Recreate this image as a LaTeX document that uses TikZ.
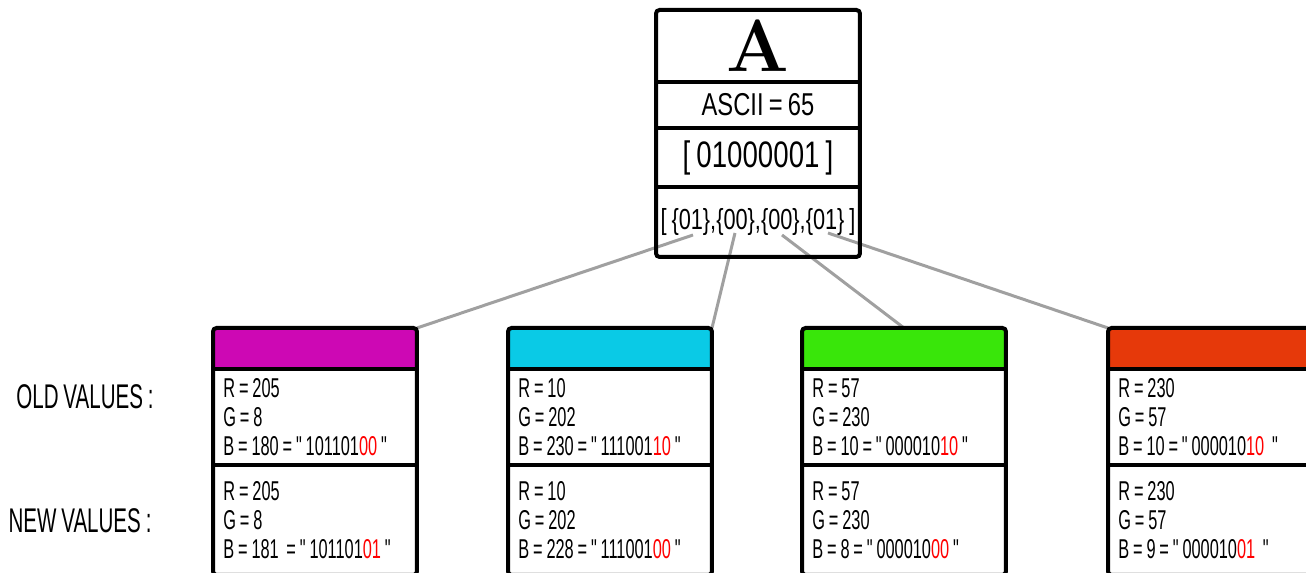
\documentclass[tikz,border=0pt]{standalone}
\usepackage{fontspec}
\usetikzlibrary{positioning}
\newfontfamily\agency{Liberation Sans}[FakeStretch=0.6,WordSpace=0.85]
\newfontfamily\agencywide{Liberation Sans}[FakeStretch=0.75,WordSpace=0.8]
\definecolor{pinkC}{RGB}{205,8,180}
\definecolor{cyanC}{RGB}{10,202,230}
\definecolor{greenC}{RGB}{57,230,10}
\definecolor{orangeC}{RGB}{230,57,10}
\definecolor{linkC}{RGB}{160,160,160}

\begin{document}
\begin{tikzpicture}[x=0.02cm,y=-0.02cm,node distance=0pt]
        \tikzstyle{cell}=[minimum width=4.08cm,inner sep=0pt,outer sep=0pt]
        \tikzstyle{frame}=[draw=black,line width=0.08cm,rounded corners=0.07cm]
        \tikzstyle{rule}=[draw=black,line width=0.08cm]
        \tikzstyle{vals}=[align=left,inner sep=0pt,font=\agency\fontsize{15.5}{16.5}\selectfont]
        \tikzstyle{link}=[draw=linkC,line width=0.06cm]
        \tikzstyle{side}=[font=\agency\fontsize{19.5}{22}\selectfont]

        \clip (0,0) rectangle (1306,573);

        % letter box
        \node[cell,minimum height=1.44cm] (chr) at (758,46)  {\fontsize{42}{42}\selectfont\bfseries A};
        \node[cell,minimum height=0.92cm] (asc) [below=of chr] {\agencywide\fontsize{18}{20}\selectfont ASCII = 65};
        \node[cell,minimum height=1.18cm] (bin) [below=of asc] {\agencywide\fontsize{21}{23}\selectfont [ 01000001 ]};
        \node[cell,minimum height=1.40cm] (bits) [below=of bin] {\agencywide\fontsize{16.5}{18}\selectfont [ \{01\},\{00\},\{00\},\{01\} ]};

        \coordinate (p1) at (693,235);
        \coordinate (p2) at (735,233);
        \coordinate (p3) at (782,235);
        \coordinate (p4) at (828,233);

        % pixel boxes
        \node[cell,minimum height=0.82cm,fill=pinkC]   (h1) at (315,348.5)  { };
        \node[cell,minimum height=1.92cm] (o1) [below=of h1] { };
        \node[cell,minimum height=2.20cm] (n1) [below=of o1] { };
        \node[cell,minimum height=0.82cm,fill=cyanC]   (h2) at (610,348.5)  { };
        \node[cell,minimum height=1.92cm] (o2) [below=of h2] { };
        \node[cell,minimum height=2.20cm] (n2) [below=of o2] { };
        \node[cell,minimum height=0.82cm,fill=greenC]  (h3) at (904,348.5)  { };
        \node[cell,minimum height=1.92cm] (o3) [below=of h3] { };
        \node[cell,minimum height=2.20cm] (n3) [below=of o3] { };
        \node[cell,minimum height=0.82cm,fill=orangeC] (h4) at (1210,348.5) { };
        \node[cell,minimum height=1.92cm] (o4) [below=of h4] { };
        \node[cell,minimum height=2.20cm] (n4) [below=of o4] { };

        \node[vals] (ov1) [right=0.2cm of o1.west] {R = 205\\G = 8\\B = 180 = " 101101\textcolor{red}{00} "};
        \node[vals] (nv1) [right=0.2cm of n1.west] {R = 205\\G = 8\\B = 181 \ = " 101101\textcolor{red}{01} "};
        \node[vals] (ov2) [right=0.2cm of o2.west] {R = 10\\G = 202\\B = 230 = " 111001\textcolor{red}{10} "};
        \node[vals] (nv2) [right=0.2cm of n2.west] {R = 10\\G = 202\\B = 228 = " 111001\textcolor{red}{00} "};
        \node[vals] (ov3) [right=0.2cm of o3.west] {R = 57\\G = 230\\B = 10 = " 000010\textcolor{red}{10} "};
        \node[vals] (nv3) [right=0.2cm of n3.west] {R = 57\\G = 230\\B = 8 = " 000010\textcolor{red}{00} "};
        \node[vals] (ov4) [right=0.2cm of o4.west] {R = 230\\G = 57\\B = 10 = " 000010\textcolor{red}{10} \ "};
        \node[vals] (nv4) [right=0.2cm of n4.west] {R = 230\\G = 57\\B = 9 = " 000010\textcolor{red}{01} \ "};

        \node[side] (old) at (85,397) {OLD VALUES :};
        \node[side] (new) at (80,521) {NEW VALUES :};

        \path[link]
                  (p1) edge (h1.north east)
                  (p2) edge (h2.north east)
                  (p3) edge (h3.north)
                  (p4) edge (h4.north west);

        \draw[frame] (chr.north west) rectangle (bits.south east);
        \draw[rule] (chr.south west) -- (chr.south east);
        \draw[rule] (asc.south west) -- (asc.south east);
        \draw[rule] (bin.south west) -- (bin.south east);

        \draw[frame] (h1.north west) rectangle (n1.south east);
        \draw[rule] (h1.south west) -- (h1.south east);
        \draw[rule] (o1.south west) -- (o1.south east);
        \draw[frame] (h2.north west) rectangle (n2.south east);
        \draw[rule] (h2.south west) -- (h2.south east);
        \draw[rule] (o2.south west) -- (o2.south east);
        \draw[frame] (h3.north west) rectangle (n3.south east);
        \draw[rule] (h3.south west) -- (h3.south east);
        \draw[rule] (o3.south west) -- (o3.south east);
        \draw[frame] (h4.north west) rectangle (n4.south east);
        \draw[rule] (h4.south west) -- (h4.south east);
        \draw[rule] (o4.south west) -- (o4.south east);
\end{tikzpicture}
\end{document}
